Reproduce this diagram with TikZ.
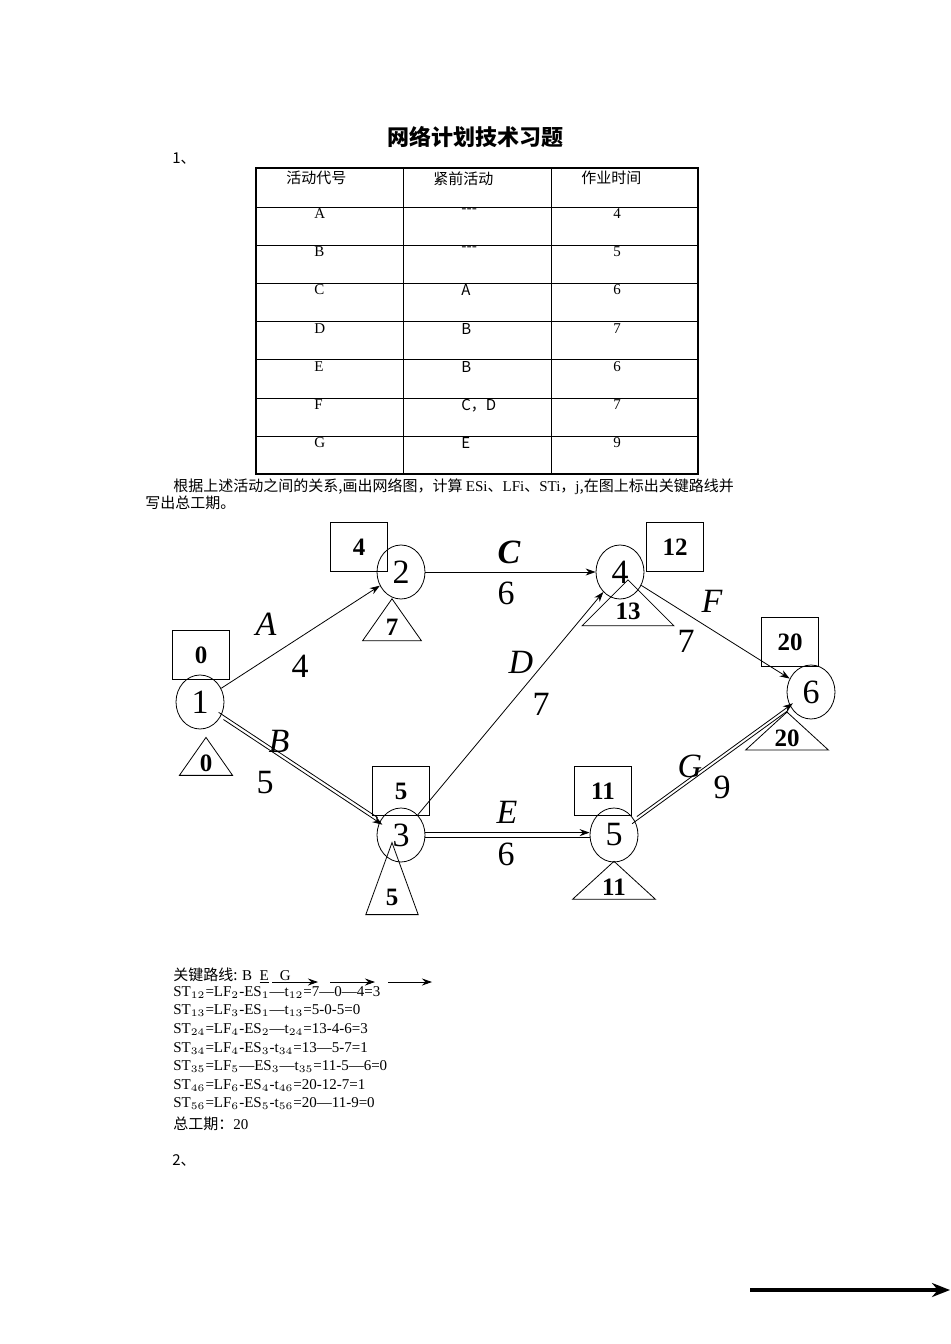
\documentclass[tikz,border=0pt]{standalone}
\usepackage{fontspec}
\setmainfont{Liberation Serif}
\newfontfamily\cjk{Noto Sans CJK SC}
\usetikzlibrary{arrows.meta,shapes.geometric}
\begin{document}
\begin{tikzpicture}[x=0.5pt,y=-0.5pt,
 ev/.style={ellipse,draw,minimum width=24pt,minimum height=27pt,inner sep=0pt,font=\fontsize{17}{17}\selectfont},
 bx/.style={draw,minimum width=28.5pt,minimum height=24.5pt,inner sep=0pt,font=\bfseries\fontsize{12.5}{12.5}\selectfont},
 tri/.style={draw,isosceles triangle,isosceles triangle apex angle=70,shape border rotate=90,inner sep=1pt,font=\bfseries\fontsize{12.5}{12.5}\selectfont},
 act/.style={-{Stealth[length=5pt,width=3.5pt]},thin},
 lab/.style={font=\itshape\fontsize{17}{17}\selectfont},
 num/.style={font=\fontsize{17}{17}\selectfont},
 sm/.style={font=\fontsize{7.5}{9}\selectfont,inner sep=0pt,anchor=north west}]
\useasboundingbox (0,0) rectangle (950,1344);
\node (title) at (475,137) {\cjk\bfseries\fontsize{11}{11}\selectfont 网络计划技术习题};
\node[sm] (n1) at (172,152) {\cjk 1、};
% table
\draw[line width=1pt] (256,168) rectangle (698,474);
\foreach \y in {207,245,283,321,359,398,436} \draw[thin] (256,\y) -- (698,\y);
\draw[thin] (403,168) -- (403,474) (551,168) -- (551,474);
\node[sm] (h1) at (286,171) {\cjk 活动代号};
\node[sm] (h2) at (433,171) {\cjk 紧前活动};
\node[sm] (h3) at (581,171) {\cjk 作业时间};
\foreach \a/\b/\c [count=\i] in {A/---/4,B/---/5,C/A/6,D/B/7,E/B/6,F/{C，D}/7,G/E/9}{
 \node[sm] at (314,170+38.2*\i) {\a};
 \node[sm] at (461,170+38.2*\i) {\cjk \b};
 \node[sm] at (613,170+38.2*\i) {\c};}
\node[sm] (p1) at (173,478) {\cjk 根据上述活动之间的关系,画出网络图，计算 {\rmfamily ESi}、{\rmfamily LFi}、{\rmfamily STi}，{\rmfamily j},在图上标出关键路线并};
\node[sm] (p2) at (145,496) {\cjk 写出总工期。};
% events
\node[ev] (e1) at (200,702) {1};
\node[ev] (e2) at (401,572) {2};
\node[ev] (e4) at (620,572) {4};
\node[ev] (e3) at (401,835) {3};
\node[ev] (e5) at (614,835) {5};
\node[ev] (e6) at (811,692) {6};
\node[bx] (b2) at (359,547) {4};
\node[bx] (b1) at (201,655) {0};
\node[bx] (b4) at (675,547) {12};
\node[bx] (b6) at (790,642) {20};
\node[bx] (b3) at (401,791) {5};
\node[bx] (b5) at (603,791) {11};
\node[tri,minimum height=21pt] (t2) at (392,627) {7};
\node[tri,minimum height=23pt,isosceles triangle apex angle=90] (t4) at (628,611) {13};
\node[tri,minimum height=19pt] (t1) at (206,763) {0};
\node[tri,minimum height=19pt,isosceles triangle apex angle=95] (t6) at (787,738) {20};
\node[tri,minimum height=36pt,isosceles triangle apex angle=40] (t3) at (392,897) {5};
\node[tri,minimum height=19pt,isosceles triangle apex angle=95] (t5) at (614,887) {11};
% activities
\draw[act] (e1) -- (e2);
\draw[act] (e2) -- (e4);
\draw[act] (e3) -- (e4);
\draw[act] (e4) -- (e6);
\draw[act,transform canvas={shift={(1.2pt,-1.8pt)}}] (e1) -- (e3);
\draw[thin,transform canvas={shift={(-1.2pt,1.8pt)}}] (e1) -- (e3);
\draw[act,transform canvas={yshift=1.2pt}] (e3) -- (e5);
\draw[thin,transform canvas={yshift=-1.2pt}] (e3) -- (e5);
\draw[act,transform canvas={shift={(1.2pt,1.8pt)}}] (e5) -- (e6);
\draw[thin,transform canvas={shift={(-1.2pt,-1.8pt)}}] (e5) -- (e6);
\node[lab] (lA) at (266,624) {A}; \node[num] (dA) at (300,666) {4};
\node[lab] (lB) at (279,741) {B}; \node[num] (dB) at (265,783) {5};
\node[lab,font=\bfseries\itshape\fontsize{17}{17}\selectfont] (lC) at (509,552) {C}; \node[num] (dC) at (506,593) {6};
\node[lab] (lD) at (521,662) {D}; \node[num] (dD) at (541,704) {7};
\node[lab] (lE) at (507,812) {E}; \node[num] (dE) at (506,854) {6};
\node[lab] (lF) at (712,601) {F}; \node[num] (dF) at (686,641) {7};
\node[lab] (lG) at (690,766) {G}; \node[num] (dG) at (722,787) {9};
% critical path text
\node[sm] (k0) at (173,967) {\cjk 关键路线: {\rmfamily B\ \ \underline{E}\ \ \ G}};
\coordinate (a1) at (272,982); \coordinate (a2) at (318,982);
\coordinate (a3) at (330,982); \coordinate (a4) at (375,982);
\coordinate (a5) at (388,982); \coordinate (a6) at (432,982);
\draw[act] (a1) -- (a2); \draw[act] (a3) -- (a4); \draw[act] (a5) -- (a6);
\node[sm] (k1) at (173,986) {ST$_{\scriptscriptstyle 12}$=LF$_{\scriptscriptstyle 2}$-ES$_{\scriptscriptstyle 1}$---t$_{\scriptscriptstyle 12}$=7---0---4=3};
\node[sm] (k2) at (173,1004.6) {ST$_{\scriptscriptstyle 13}$=LF$_{\scriptscriptstyle 3}$-ES$_{\scriptscriptstyle 1}$---t$_{\scriptscriptstyle 13}$=5-0-5=0};
\node[sm] (k3) at (173,1023.2) {ST$_{\scriptscriptstyle 24}$=LF$_{\scriptscriptstyle 4}$-ES$_{\scriptscriptstyle 2}$---t$_{\scriptscriptstyle 24}$=13-4-6=3};
\node[sm] (k4) at (173,1041.8) {ST$_{\scriptscriptstyle 34}$=LF$_{\scriptscriptstyle 4}$-ES$_{\scriptscriptstyle 3}$-t$_{\scriptscriptstyle 34}$=13---5-7=1};
\node[sm] (k5) at (173,1060.4) {ST$_{\scriptscriptstyle 35}$=LF$_{\scriptscriptstyle 5}$---ES$_{\scriptscriptstyle 3}$---t$_{\scriptscriptstyle 35}$=11-5---6=0};
\node[sm] (k6) at (173,1079) {ST$_{\scriptscriptstyle 46}$=LF$_{\scriptscriptstyle 6}$-ES$_{\scriptscriptstyle 4}$-t$_{\scriptscriptstyle 46}$=20-12-7=1};
\node[sm] (k7) at (173,1097.6) {ST$_{\scriptscriptstyle 56}$=LF$_{\scriptscriptstyle 6}$-ES$_{\scriptscriptstyle 5}$-t$_{\scriptscriptstyle 56}$=20---11-9=0};
\node[sm] (k8) at (173,1116.2) {\cjk 总工期：{\rmfamily 20}};
\node[sm] (n2) at (172,1154) {\cjk 2、};
\coordinate (z1) at (750,1290); \coordinate (z2) at (950,1290);
\draw[line width=2.2pt,-{Stealth[length=9pt,width=7pt]}] (z1) -- (z2);
\end{tikzpicture}
\end{document}
